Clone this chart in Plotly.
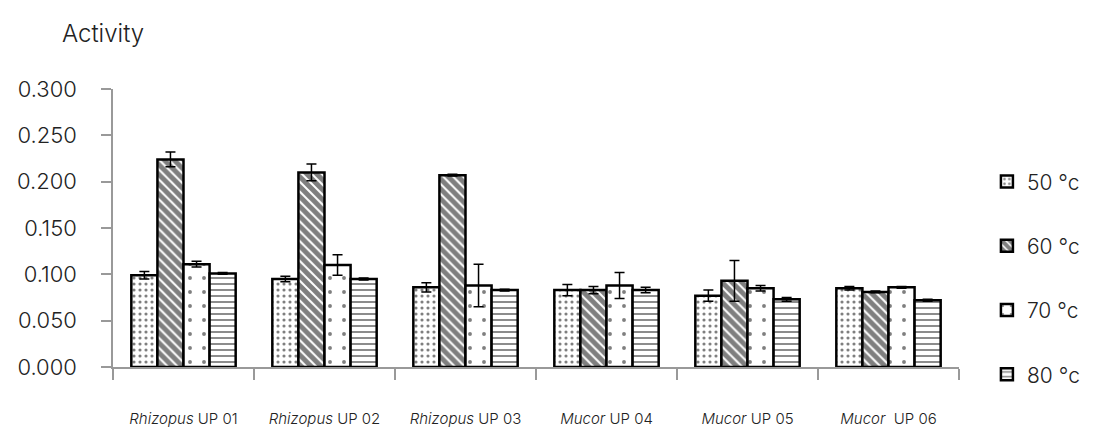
import plotly.graph_objects as go

strains = [
    "<i>Rhizopus</i> UP 01", "<i>Rhizopus</i> UP 02", "<i>Rhizopus</i> UP 03",
    "<i>Mucor</i> UP 04", "<i>Mucor</i> UP 05", "<i>Mucor</i>  UP 06",
]
temps = ["50 °c", "60 °c", "70 °c", "80 °c"]

act_50 = [0.099, 0.095, 0.086, 0.083, 0.077, 0.085]
act_60 = [0.224, 0.210, 0.207, 0.083, 0.093, 0.081]
act_70 = [0.111, 0.110, 0.088, 0.088, 0.085, 0.086]
act_80 = [0.101, 0.095, 0.083, 0.083, 0.073, 0.072]

err_50 = [0.004, 0.003, 0.005, 0.006, 0.006, 0.002]
err_60 = [0.008, 0.009, 0.001, 0.004, 0.022, 0.001]
err_70 = [0.003, 0.011, 0.023, 0.014, 0.003, 0.001]
err_80 = [0.001, 0.001, 0.001, 0.003, 0.002, 0.001]

y_ticks = [0.0, 0.05, 0.1, 0.15, 0.2, 0.25, 0.3]
y_tick_text = ["0.000", "0.050", "0.100", "0.150", "0.200", "0.250", "0.300"]

series = [
    (temps[0], act_50, err_50, dict(shape=".", size=6, solidity=0.22)),
    (temps[1], act_60, err_60, dict(shape="\\", size=7, solidity=0.72)),
    (temps[2], act_70, err_70, dict(shape=".", size=14, solidity=0.06)),
    (temps[3], act_80, err_80, dict(shape="-", size=6, solidity=0.3)),
]

FONT = "Inter"
TXT = "#222222"
fig = go.Figure()
for i, (name, vals, errs, pat) in enumerate(series):
    fig.add_trace(go.Bar(
        x=strains, y=vals, name=name,
        legendgroup=f"g{i}",
        marker=dict(
            color="white",
            line=dict(color="black", width=2.5),
            pattern=dict(fgcolor="black", bgcolor="white", **pat),
        ),
        error_y=dict(type="data", array=errs, visible=True,
                     color="black", thickness=1.5, width=5),
    ))

fig.update_layout(
    width=1099, height=430,
    margin=dict(l=113, r=140, t=89, b=63, autoexpand=False),
    paper_bgcolor="white", plot_bgcolor="white",
    barmode="group", bargap=0.26, bargroupgap=0,
    font=dict(family=FONT, color=TXT, weight=300),
    annotations=[dict(text="Activity", xref="paper", yref="paper",
                      x=-0.063, y=1.14, xanchor="left", yanchor="bottom",
                      showarrow=False,
                      font=dict(size=24, family=FONT, color=TXT, weight=300))],
    shapes=[dict(type="line", xref="paper", yref="paper", x0=0, x1=0,
                 y0=0, y1=-0.033, line=dict(color="#999999", width=1.5))],
    legend=dict(x=1.033, xanchor="left", y=0.74, yanchor="top",
                font=dict(size=21, family=FONT, color=TXT, weight=300),
                tracegroupgap=34, itemwidth=30),
    showlegend=True,
)
fig.update_xaxes(
    automargin=False,
    showline=True, linecolor="#999999", linewidth=1.5,
    ticks="outside", tickson="boundaries", ticklen=11, tickcolor="#999999", tickwidth=1.5,
    tickfont=dict(size=15, family=FONT, color=TXT, weight=300),
    ticklabelstandoff=37,
)
fig.update_yaxes(
    automargin=False,
    range=[0, 0.3], tickvals=y_ticks, ticktext=y_tick_text,
    showgrid=False, zeroline=False,
    showline=True, linecolor="#999999", linewidth=1.5,
    ticks="outside", ticklen=10, tickcolor="#999999", tickwidth=1.5,
    tickfont=dict(size=22, family=FONT, color=TXT, weight=300),
    ticklabelstandoff=20,
)

fig.write_html("out.html")
